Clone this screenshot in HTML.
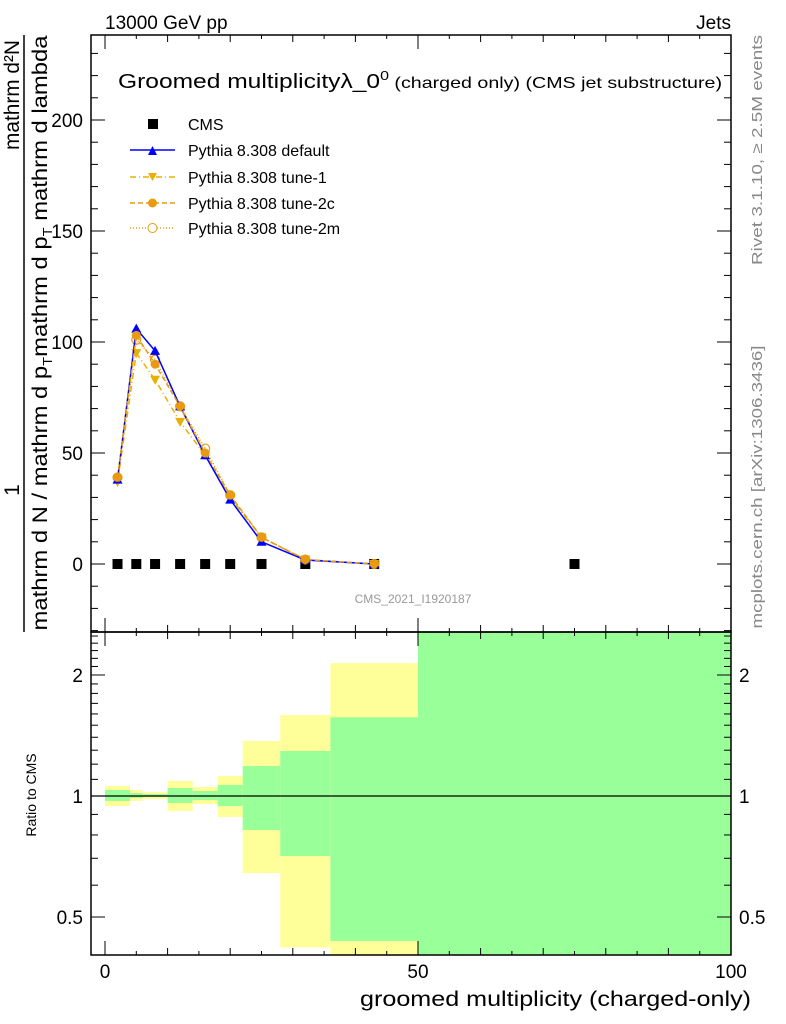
<!DOCTYPE html>
<html><head><meta charset="utf-8"><style>
body{margin:0;background:#fff}
svg{display:block;font-family:"Liberation Sans",sans-serif}
</style></head><body>
<svg id="c" width="786" height="1024" viewBox="0 0 786 1024">
<g id="ratio"></g>
<g id="main"></g>
<text x="105" y="29" font-size="19">13000 GeV pp</text>
<text x="731" y="29" font-size="19" text-anchor="end">Jets</text>
<text x="118" y="88" font-size="20" textLength="604" lengthAdjust="spacingAndGlyphs">Groomed multiplicityλ_0<tspan font-size="13" dy="-8">0</tspan><tspan font-size="16" dy="8"> (charged only) (CMS jet substructure)</tspan></text>
<text x="413" y="603" font-size="12" fill="#999" text-anchor="middle">CMS_2021_I1920187</text>
<text transform="translate(762,150) rotate(-90)" font-size="15" fill="#888" text-anchor="middle" textLength="230" lengthAdjust="spacingAndGlyphs">Rivet 3.1.10, ≥ 2.5M events</text>
<text transform="translate(762,487) rotate(-90)" font-size="15" fill="#888" text-anchor="middle" textLength="283" lengthAdjust="spacingAndGlyphs">mcplots.cern.ch [arXiv:1306.3436]</text>
<text transform="translate(19,490) rotate(-90)" font-size="21" text-anchor="middle">1</text>
<text transform="translate(19,95) rotate(-90)" font-size="21" text-anchor="middle" textLength="110" lengthAdjust="spacingAndGlyphs">mathrm d²N</text>
<line x1="24" y1="35" x2="24" y2="632" stroke="#000" stroke-width="1.5"/>
<text transform="translate(47,333) rotate(-90)" font-size="21" text-anchor="middle" textLength="595" lengthAdjust="spacingAndGlyphs">mathrm d N / mathrm d p<tspan font-size="13" dy="5">T</tspan><tspan dy="-5">mathrm d p</tspan><tspan font-size="13" dy="5">T</tspan><tspan dy="-5"> mathrm d lambda</tspan></text>
<text transform="translate(36,795) rotate(-90)" font-size="14" text-anchor="middle">Ratio to CMS</text>
<text x="751" y="1006" font-size="21" text-anchor="end" textLength="391" lengthAdjust="spacingAndGlyphs">groomed multiplicity (charged-only)</text>
<g font-size="16">
<rect x="148" y="119" width="10" height="10" fill="#000"/>
<text x="188" y="130">CMS</text>
<line x1="130" y1="150" x2="175" y2="150" stroke="#00f" stroke-width="1.5"/><path d="M148,155 L157,155 L152.5,146 Z" fill="#00f"/>
<text x="188" y="156">Pythia 8.308 default</text>
<line x1="130" y1="177" x2="175" y2="177" stroke="#e8b000" stroke-width="1.5" stroke-dasharray="6,3,1,3"/><path d="M148,173 L157,173 L152.5,181 Z" fill="#e8b000"/>
<text x="188" y="183">Pythia 8.308 tune-1</text>
<line x1="130" y1="203" x2="175" y2="203" stroke="#e89a10" stroke-width="1.5" stroke-dasharray="5,3"/><circle cx="152.5" cy="203" r="4.5" fill="#e89a10"/>
<text x="188" y="209">Pythia 8.308 tune-2c</text>
<line x1="130" y1="228" x2="175" y2="228" stroke="#e89a10" stroke-width="1.5" stroke-dasharray="1,2"/><circle cx="152.5" cy="228" r="4.5" fill="#fff" stroke="#e89a10"/>
<text x="188" y="234">Pythia 8.308 tune-2m</text>
</g>
</svg>
<script>
const binEdges=[0,4,6,10,14,18,22,28,36,50,100];
const xCenters=[2,5,8,12,16,20,25,32,43,75];
const cmsValues=[0,0,0,0,0,0,0,0,0,0];
const defaultValues=[38,106,96,71,49,29,10,1.8,0];
const tune1Values=[37,95,83,64,49,30,12,2,0];
const tune2cValues=[39,103,90,71,50,31,12,2,0];
const tune2mValues=[39,101,92,71,52,31,12,2,0];
const ratioYellowHi=[1.059,1.035,1.023,1.09,1.053,1.121,1.37,1.59,2.14,3];
const ratioYellowLo=[0.944,0.972,0.983,0.918,0.955,0.887,0.643,0.42,0.3,0.3];
const ratioGreenHi=[1.035,1.017,1.011,1.047,1.029,1.065,1.187,1.294,1.57,3];
const ratioGreenLo=[0.972,0.989,0.994,0.961,0.977,0.944,0.823,0.709,0.436,0.3];
const xTicks=[0,50,100];
const yTicks=[0,50,100,150,200];
const ratioTicks=[0.5,1,2];

const NS="http://www.w3.org/2000/svg";
const L=91,R=731,T=35,B=632,RB=955;
const X=v=>105+(v)*6.26;
const Y=v=>564-v*2.22;
const RY=v=>796-Math.log10(v)*402;
const clampR=y=>Math.max(B,Math.min(RB,y));
function mk(p,t,a){const e=document.createElementNS(NS,t);for(const k in a)e.setAttribute(k,a[k]);p.appendChild(e);return e;}
const main=document.getElementById('main'),ratio=document.getElementById('ratio');

for(let i=0;i<binEdges.length-1;i++){
  const x1=X(binEdges[i]),x2=X(binEdges[i+1]);
  const yt=clampR(RY(ratioYellowHi[i])),yb=clampR(RY(ratioYellowLo[i]));
  const r1=mk(ratio,'rect',{x:x1,y:yt,width:x2-x1,height:yb-yt,fill:'#ffff99'});
  
  
  const gt=clampR(RY(ratioGreenHi[i])),gb=clampR(RY(ratioGreenLo[i]));
  const r2=mk(ratio,'rect',{x:x1,y:gt,width:x2-x1,height:gb-gt,fill:'#99ff99'});
  
  
}
mk(ratio,'line',{x1:L,y1:RY(1),x2:R,y2:RY(1),stroke:'#000','stroke-width':1.2});
mk(main,'rect',{x:L,y:T,width:R-L,height:B-T,fill:'none',stroke:'#000','stroke-width':1.5});
mk(ratio,'rect',{x:L,y:B,width:R-L,height:RB-B,fill:'none',stroke:'#000','stroke-width':1.5});
for(let v=-30;v<=230;v+=10){const y=Y(v);if(y<T||y>B)continue;const mj=v%50===0;const w=mj?14:7;
 mk(main,'line',{x1:L,y1:y,x2:L+w,y2:y,stroke:'#000'});mk(main,'line',{x1:R-w,y1:y,x2:R,y2:y,stroke:'#000'});}
yTicks.forEach(v=>{const t=mk(main,'text',{x:L-8,y:Y(v)+7,'font-size':19,'text-anchor':'end'});t.textContent=v;
 
 });
for(let v=0;v<=100;v+=5){const x=X(v);const mj=v%50===0;const h=mj?14:(v%10===0?7:4);
 [[T,T+h],[B,B-h],[B,B+h],[RB,RB-h]].forEach(([a,b])=>mk(main,'line',{x1:x,y1:a,x2:x,y2:b,stroke:'#000'}));}
xTicks.forEach(v=>{const t=mk(main,'text',{x:X(v),y:978,'font-size':19,'text-anchor':'middle'});t.textContent=v;
 
 });
[0.4,0.5,0.6,0.7,0.8,0.9,1,1.1,1.2,1.3,1.4,1.5,1.6,1.7,1.8,1.9,2,2.1,2.2,2.3,2.4,2.5].forEach(v=>{const y=RY(v);if(y<B||y>RB)return;
 const mj=ratioTicks.includes(v);const w=mj?14:7;
 mk(ratio,'line',{x1:L,y1:y,x2:L+w,y2:y,stroke:'#000'});mk(ratio,'line',{x1:R-w,y1:y,x2:R,y2:y,stroke:'#000'});});
ratioTicks.forEach(v=>{[[L-8,'end'],[R+8,'start']].forEach(([x,a])=>{const t=mk(ratio,'text',{x:x,y:RY(v)+7,'font-size':19,'text-anchor':a});t.textContent=v;
 
 });});
function series(vals,color,dash,marker,name){
 const pts=vals.map((v,i)=>X(xCenters[i])+','+Y(v)).join(' ');
 const pl=mk(main,'polyline',{points:pts,fill:'none',stroke:color,'stroke-width':1.5,'stroke-dasharray':dash});
 
 
 vals.forEach((v,i)=>{const x=X(xCenters[i]),y=Y(v);let m;
  if(marker==='up')m=mk(main,'path',{d:`M${x-5},${y+4} L${x+5},${y+4} L${x},${y-5} Z`,fill:color});
  else if(marker==='down')m=mk(main,'path',{d:`M${x-5},${y-4} L${x+5},${y-4} L${x},${y+5} Z`,fill:color});
  else if(marker==='dot')m=mk(main,'circle',{cx:x,cy:y,r:4.5,fill:color});
  else m=mk(main,'circle',{cx:x,cy:y,r:4.5,fill:'none',stroke:color,'stroke-width':1.2});
  
  });
}
cmsValues.forEach((v,i)=>{const r=mk(main,'rect',{x:X(xCenters[i])-5,y:Y(v)-5,width:10,height:10,fill:'#000'});
 
 });
series(tune1Values,'#e8b000','6,3,1,3','down','tune-1');
series(tune2mValues,'#e89a10','1,2','ring','tune-2m');
series(defaultValues,'#0000ff','','up','default');
series(tune2cValues,'#e89a10','5,3','dot','tune-2c');
</script>
</body></html>
